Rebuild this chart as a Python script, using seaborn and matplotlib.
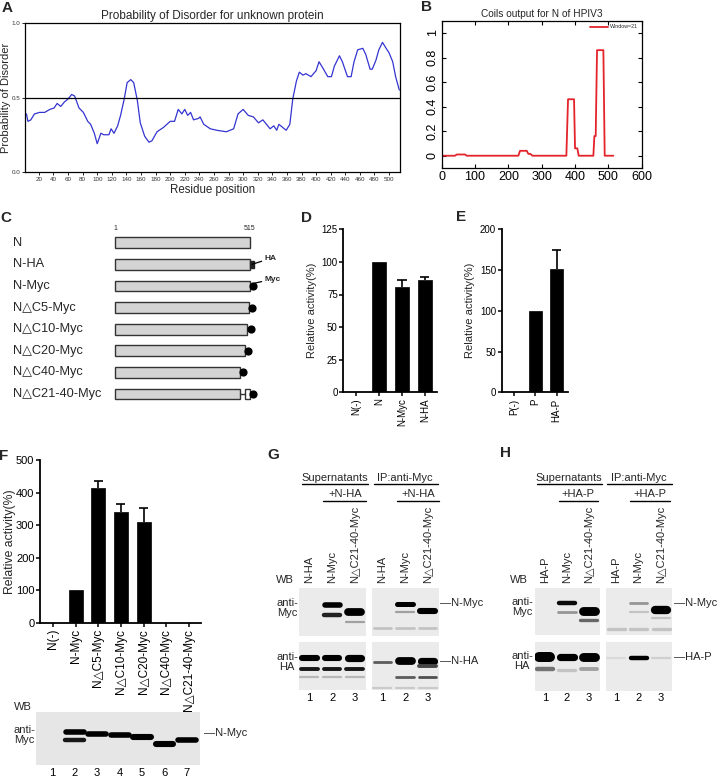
import numpy as np
import matplotlib
matplotlib.use("Agg")
import matplotlib.pyplot as plt
from matplotlib.lines import Line2D
from matplotlib.patches import Rectangle
import seaborn as sns

W, H = 720, 777
FONT = ["Liberation Sans", "DejaVu Sans"]

# ---- A: disorder probability ----
disorder_res = [3, 5, 9, 14, 21, 28, 35, 41, 45, 50, 55, 60, 65, 69, 75, 81, 87, 91, 96, 100,
                105, 109, 116, 119, 123, 128, 132, 137, 141, 146, 150, 155, 159, 165, 171, 175,
                182, 191, 200, 206, 211, 216, 220, 224, 228, 232, 239, 241, 246, 255, 264, 277,
                287, 293, 300, 307, 314, 321, 327, 332, 337, 342, 346, 349, 354, 359, 364, 368,
                373, 377, 382, 386, 393, 400, 404, 409, 416, 421, 425, 432, 436, 443, 448, 452,
                457, 464, 468, 474, 477, 482, 486, 491, 496, 500, 505, 509, 514]
disorder_prob = [0.39, 0.34, 0.35, 0.39, 0.40, 0.40, 0.42, 0.43, 0.46, 0.44, 0.47, 0.49, 0.52, 0.51,
                 0.43, 0.40, 0.34, 0.32, 0.26, 0.19, 0.26, 0.25, 0.25, 0.29, 0.26, 0.31, 0.38, 0.49,
                 0.60, 0.62, 0.60, 0.48, 0.33, 0.24, 0.20, 0.21, 0.27, 0.30, 0.34, 0.34, 0.42, 0.39,
                 0.42, 0.38, 0.40, 0.35, 0.36, 0.37, 0.32, 0.29, 0.28, 0.27, 0.29, 0.39, 0.42, 0.38,
                 0.37, 0.33, 0.35, 0.32, 0.29, 0.31, 0.28, 0.32, 0.30, 0.28, 0.32, 0.49, 0.61, 0.67,
                 0.65, 0.66, 0.64, 0.68, 0.74, 0.70, 0.64, 0.64, 0.71, 0.78, 0.74, 0.64, 0.64, 0.74,
                 0.82, 0.83, 0.79, 0.69, 0.69, 0.75, 0.82, 0.87, 0.83, 0.80, 0.74, 0.64, 0.55]

# ---- B: coils output ----
coil_res = [1, 40, 45, 70, 75, 230, 235, 255, 260, 266, 272, 374, 379, 397, 400, 407, 411,
            455, 458, 462, 466, 485, 489, 515]
coil_score = [0, 0, 0.01, 0.01, 0, 0, 0.04, 0.04, 0.015, 0.015, 0, 0, 0.46, 0.46, 0.06, 0.06, 0,
              0, 0.16, 0.16, 0.86, 0.86, 0, 0]

# ---- C: constructs ----
construct_names = ["N", "N-HA", "N-Myc", "N\u25b3C5-Myc", "N\u25b3C10-Myc", "N\u25b3C20-Myc",
                   "N\u25b3C40-Myc", "N\u25b3C21-40-Myc"]
construct_end = [515, 515, 515, 510, 505, 495, 475, 475]
construct_tag = ["", "HA", "Myc", "Myc", "Myc", "Myc", "Myc", "Myc"]
construct_tail = [None, None, None, None, None, None, None, (495, 515)]  # kept C-terminal piece

# ---- D, E, F: luciferase activity ----
d_labels = ["N(-)", "N", "N-Myc", "N-HA"]
d_values = [0, 100, 81, 86]
d_err = [0, 0, 5.5, 2.5]

e_labels = ["P(-)", "P", "HA-P"]
e_values = [0, 100, 151]
e_err = [0, 0, 24]

f_labels = ["N(-)", "N-Myc", "N\u25b3C5-Myc", "N\u25b3C10-Myc", "N\u25b3C20-Myc",
            "N\u25b3C40-Myc", "N\u25b3C21-40-Myc"]
f_values = [0, 100, 413, 340, 309, 0, 0]
f_err = [0, 0, 23, 25, 43, 0, 0]

# ---- blots: (lane, position from top 0-1, intensity 0-1, thickness px) ----
f_blot = [(2, 0.39, 1.0, 5), (2, 0.54, 0.9, 4), (3, 0.41, 1.0, 5), (4, 0.44, 1.0, 5),
          (5, 0.48, 1.0, 5.5), (6, 0.61, 1.0, 5.5), (7, 0.53, 1.0, 5)]

g_sup_myc = [(2, 0.35, 1.0, 5), (2, 0.56, 0.85, 4), (3, 0.51, 1.0, 7), (3, 0.71, 0.3, 2)]
g_ip_myc = [(2, 0.33, 1.0, 4.5), (2, 0.50, 0.3, 2), (3, 0.48, 1.0, 5.5),
            (1, 0.84, 0.15, 2.5), (2, 0.84, 0.15, 2.5), (3, 0.84, 0.15, 2.5)]
g_sup_ha = [(1, 0.33, 1.0, 5.5), (2, 0.33, 1.0, 5.5), (3, 0.33, 1.0, 6.5),
            (1, 0.57, 0.9, 3.5), (2, 0.57, 0.9, 3.5), (3, 0.57, 0.9, 3.5),
            (1, 0.74, 0.2, 2), (2, 0.74, 0.2, 2), (3, 0.74, 0.2, 2)]
g_ip_ha = [(1, 0.41, 0.6, 2.5), (2, 0.40, 1.0, 7), (3, 0.40, 1.0, 6.5), (3, 0.50, 0.7, 3.5),
           (2, 0.74, 0.6, 2.5), (3, 0.74, 0.65, 2.5),
           (1, 0.95, 0.12, 2), (2, 0.95, 0.12, 2), (3, 0.95, 0.12, 2)]

h_sup_myc = [(2, 0.31, 0.95, 4), (2, 0.50, 0.35, 2.5), (3, 0.48, 1.0, 8), (3, 0.69, 0.55, 3)]
h_ip_myc = [(2, 0.31, 0.35, 2.5), (2, 0.50, 0.15, 2), (3, 0.46, 1.0, 7.5), (3, 0.64, 0.15, 2),
            (1, 0.88, 0.15, 3), (2, 0.88, 0.15, 3), (3, 0.88, 0.15, 3)]
h_sup_ha = [(1, 0.32, 1.0, 9), (1, 0.56, 0.5, 4), (2, 0.32, 1.0, 6.5), (2, 0.57, 0.15, 3),
            (3, 0.32, 1.0, 8), (3, 0.56, 0.3, 3.5)]
h_ip_ha = [(1, 0.33, 0.05, 2), (2, 0.33, 1.0, 4), (3, 0.33, 0.1, 2)]

g_lane_labels = ["N-HA", "N-Myc", "N\u25b3C21-40-Myc"]
h_lane_labels = ["HA-P", "N-Myc", "N\u25b3C21-40-Myc"]

sns.set_style("ticks")
plt.rcParams["font.family"] = FONT
plt.rcParams["axes.edgecolor"] = "black"
plt.rcParams["xtick.color"] = "black"
plt.rcParams["ytick.color"] = "black"

fig = plt.figure(figsize=(W / 100, H / 100), dpi=100)


def px_axes(x0, y0, x1, y1):
    return fig.add_axes([x0 / W, 1 - y1 / H, (x1 - x0) / W, (y1 - y0) / H])


def label(x, y, s, **kw):
    kw.setdefault("ha", "center")
    kw.setdefault("va", "center")
    kw.setdefault("fontsize", 8)
    fig.text(x / W, 1 - y / H, s, **kw)


def hline(x0, x1, y, lw=1.0):
    fig.add_artist(Line2D([x0 / W, x1 / W], [1 - y / H, 1 - y / H],
                          transform=fig.transFigure, color="black", lw=lw))


def activity_bars(ax, labels, values, err, ymax, step, ylab_x, fs_x, fs_y):
    sns.barplot(x=labels, y=values, color="black", saturation=1, width=0.62, ax=ax,
                edgecolor="black", linewidth=0.5)
    # one-sided (upper) error bars, GraphPad style
    for i, (v, e) in enumerate(zip(values, err)):
        if e > 0:
            ax.vlines(i, v, v + e, color="black", lw=1.2)
            ax.hlines(v + e, i - 0.2, i + 0.2, color="black", lw=1.2)
    ax.set_xlim(-0.57, len(labels) - 0.47)
    ax.set_ylim(0, ymax)
    ax.set_yticks(np.arange(0, ymax + 1, step))
    sns.despine(ax=ax)
    for s in ["left", "bottom"]:
        ax.spines[s].set_linewidth(1.3)
    ax.tick_params(axis="x", labelsize=fs_x, rotation=90, length=3, width=1.1, pad=1.5)
    ax.tick_params(axis="y", labelsize=fs_y, length=3, width=1.1, pad=1)
    ax.set_ylabel("Relative activity(%)", fontsize=8)
    ax.yaxis.set_label_coords(ylab_x, 0.5)


def blot(box, bands, xlim, numbers, band_w=20, bg="#ebebeb", top_labels=None):
    x0, y0, x1, y1 = box
    ax = px_axes(x0, y0, x1, y1)
    ax.set_facecolor(bg)
    ax.set_xlim(*xlim)
    ax.set_ylim(1, 0)
    lane_px = (x1 - x0) / (xlim[1] - xlim[0])
    for lane, pos, inten, thick in bands:
        half = max(band_w / 2 - thick / 2, 2) / lane_px
        shade = str(round(0.9 * (1 - inten), 3))
        ax.plot([lane - half, lane + half], [pos, pos], color=shade, lw=thick * 0.8,
                solid_capstyle="round")
    for s in ax.spines.values():
        s.set_visible(False)
    ax.set_yticks([])
    if numbers:
        ax.set_xticks(range(1, len(numbers) + 1))
        ax.set_xticklabels(numbers, fontsize=8)
        ax.tick_params(axis="x", length=0, pad=2)
    else:
        ax.set_xticks([])
    if top_labels:
        for i, t in enumerate(top_labels):
            ax.annotate(t, xy=(i + 1, 1), xycoords=("data", "axes fraction"),
                        xytext=(0, 3.5), textcoords="offset points", rotation=90,
                        ha="center", va="bottom", fontsize=8)
    return ax


# ---------- A ----------
ax = px_axes(25, 23, 400, 172)
sns.lineplot(x=disorder_res, y=disorder_prob, color="#3434d2", lw=0.9, ax=ax)
ax.axhline(0.5, color="black", lw=0.9)
ax.set_xlim(1, 515)
ax.set_ylim(0, 1)
ax.set_xticks(range(20, 501, 20))
ax.set_yticks([0, 0.5, 1.0])
ax.set_yticklabels(["0.0", "0.5", "1.0"])
ax.tick_params(labelsize=4.5, length=2, width=0.6, pad=1.5, labelcolor="#333333")
for s in ax.spines.values():
    s.set_linewidth(0.9)
ax.set_xlabel("Residue position", fontsize=8.3, labelpad=1.5)
ax.set_ylabel("Probability of Disorder", fontsize=8)
ax.yaxis.set_label_coords(-0.037, 0.5)
ax.set_title("Probability of Disorder for unknown protein", fontsize=8.5, pad=3)

# ---------- B ----------
ax = px_axes(441.7, 20.7, 641.7, 168)
sns.lineplot(x=coil_res, y=coil_score, color="#e3242b", lw=1.3, ax=ax, label="Window=21")
ax.set_xlim(0, 600)
ax.set_ylim(-0.1, 1.1)
ax.set_xticks(range(0, 601, 100))
ax.set_yticks([0, 0.2, 0.4, 0.6, 0.8, 1.0])
ax.set_yticklabels(["0", "0.2", "0.4", "0.6", "0.8", "1"])
ax.tick_params(direction="in", top=True, right=True, labelsize=9, length=3, width=0.8, pad=2)
for t in ax.get_yticklabels():
    t.set_rotation(90)
    t.set_va("center")
for s in ax.spines.values():
    s.set_linewidth(0.9)
ax.legend(loc="upper right", fontsize=3.8, frameon=False, handlelength=3.5,
          borderaxespad=0.3, handletextpad=0.3)
ax.set_title("Coils output for N of HPIV3", fontsize=7.3, pad=3)

# ---------- C ----------
ax = px_axes(100, 230, 290, 405)
rows = np.arange(len(construct_names))
ax.barh(rows, [e - 1 for e in construct_end], left=1, height=0.5, color="#d4d4d4",
        edgecolor="#333333", lw=1.0)
for r, tag, end, tail in zip(rows, construct_tag, construct_end, construct_tail):
    if tag == "HA":
        ax.add_patch(Rectangle((end, r - 0.17), 15, 0.34, color="#222222"))
    elif tag == "Myc":
        if tail is not None:
            ax.plot([end, tail[0]], [r, r], color="#333333", lw=1.0)
            ax.add_patch(Rectangle((tail[0], r - 0.25), tail[1] - tail[0], 0.5,
                                   facecolor="white", edgecolor="#333333", lw=1.0))
            end = tail[1]
        ax.scatter([end + 12], [r], s=24, color="black", zorder=3)
ax.set_xlim(-57.4, 667.7)
ax.set_ylim(7.51, -0.588)
ax.axis("off")
ax.text(1, -0.5, "1", fontsize=5, ha="center", va="bottom")
ax.text(515, -0.5, "515", fontsize=5, ha="center", va="bottom")
ax.annotate("HA", xy=(523, 1), xytext=(572, 0.72), fontsize=6, fontweight="bold",
            va="center", arrowprops=dict(arrowstyle="-", lw=0.9, color="black", shrinkA=0, shrinkB=0))
ax.annotate("Myc", xy=(530, 1.88), xytext=(572, 1.68), fontsize=6, fontweight="bold",
            va="center", arrowprops=dict(arrowstyle="-", lw=0.9, color="black", shrinkA=0, shrinkB=0))
for r, name in zip(rows, construct_names):
    label(13, 242.7 + 21.6 * r, name, ha="left", fontsize=9.2)

# ---------- D ----------
ax = px_axes(343.3, 229.3, 437, 392.3)
activity_bars(ax, d_labels, d_values, d_err, 125, 25, -0.28, 7, 7)

# ---------- E ----------
ax = px_axes(501.7, 229.3, 568, 392.3)
activity_bars(ax, e_labels, e_values, e_err, 200, 50, -0.40, 7, 7)

# ---------- F ----------
ax = px_axes(40, 460, 201, 622.7)
activity_bars(ax, f_labels, f_values, f_err, 500, 100, -0.152, 8.5, 8)
ax.yaxis.label.set_fontsize(8.8)

blot((35.7, 711.7, 200, 765), f_blot, (0.26, 7.59), [str(i) for i in range(1, 8)],
     band_w=23, bg="#e6e6e6")
label(23, 707, "WB")
label(24, 735, "anti-\nMyc", linespacing=1.0)
label(204, 733.3, "\u2014N-Myc", ha="left")

# ---------- G ----------
lanes3 = ["1", "2", "3"]
blot((299.3, 588, 366, 636), g_sup_myc, (0.55, 3.5), None, top_labels=g_lane_labels)
blot((372.3, 588, 439, 636), g_ip_myc, (0.55, 3.5), None, top_labels=g_lane_labels)
blot((299.3, 641.7, 366, 690), g_sup_ha, (0.55, 3.5), lanes3)
blot((372.3, 641.7, 439, 690), g_ip_ha, (0.55, 3.5), lanes3)
label(335, 478.3, "Supernatants")
hline(301.7, 368.3, 483.8)
label(405, 478.3, "IP:anti-Myc")
hline(374, 438.3, 483.8)
label(345.3, 494, "+N-HA")
hline(323.3, 365.7, 500.7)
label(418.3, 494, "+N-HA")
hline(397.3, 439.3, 500.7)
label(285, 580, "WB")
label(287, 608, "anti-\nMyc", linespacing=1.0)
label(287, 662, "anti-\nHA", linespacing=1.0)
label(440, 603.3, "\u2014N-Myc", ha="left")
label(440, 660.7, "\u2014N-HA", ha="left")

# ---------- H ----------
blot((535, 588, 600, 635), h_sup_myc, (0.55, 3.5), None, top_labels=h_lane_labels)
blot((606, 588, 672.3, 635), h_ip_myc, (0.55, 3.5), None, top_labels=h_lane_labels)
blot((535, 641.7, 600, 690.7), h_sup_ha, (0.55, 3.5), lanes3)
blot((606, 641.7, 672.3, 690.7), h_ip_ha, (0.55, 3.5), lanes3)
label(568.3, 478.3, "Supernatants")
hline(536.7, 601.7, 483.8)
label(639.3, 478.3, "IP:anti-Myc")
hline(606.7, 671.7, 483.8)
label(578.3, 494, "+HA-P")
hline(559.3, 597.7, 500.7)
label(650, 494, "+HA-P")
hline(630, 670, 500.7)
label(519, 580, "WB")
label(522, 607, "anti-\nMyc", linespacing=1.0)
label(522, 661, "anti-\nHA", linespacing=1.0)
label(674, 603, "\u2014N-Myc", ha="left")
label(674, 656.7, "\u2014HA-P", ha="left")

# ---------- panel letters ----------
for ch, x, y in [("A", 7, 8), ("B", 427, 7), ("C", 6, 218), ("D", 307, 218), ("E", 461, 217),
                 ("F", 4, 456), ("G", 273, 455), ("H", 506, 453)]:
    label(x, y, ch, fontsize=11, fontweight="bold")

fig.savefig("out.png", dpi=100)
